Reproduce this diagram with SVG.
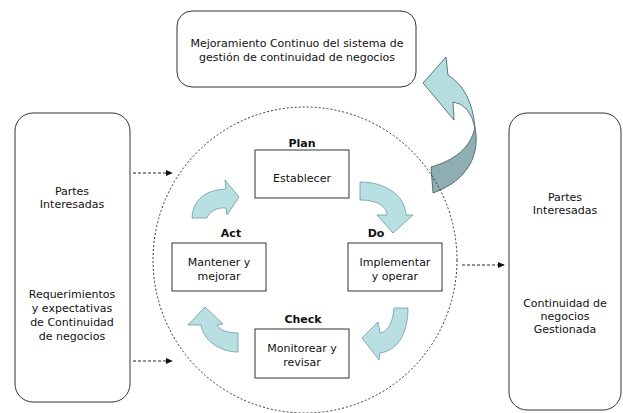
<svg xmlns="http://www.w3.org/2000/svg" width="623" height="413" viewBox="0 0 623 413">
<defs>
<style>
.box{fill:#fff;stroke:#333;stroke-width:1}
.t{font-family:"DejaVu Sans",Verdana,sans-serif;font-size:11px;fill:#111;text-anchor:middle}
.b{font-family:"DejaVu Sans",Verdana,sans-serif;font-size:11px;font-weight:bold;fill:#111;text-anchor:middle}
.sa{fill:#b8dfe2;stroke:#6c9a9e;stroke-width:0.8;stroke-linejoin:round}
.dash{fill:none;stroke:#222;stroke-width:1;stroke-dasharray:3,2}
</style>
<marker id="ah" viewBox="0 0 8 8" refX="7" refY="4" markerWidth="7" markerHeight="7" markerUnits="userSpaceOnUse" orient="auto">
<path d="M0,0.5 L8,4 L0,7.5 Z" fill="#111"/>
</marker>
</defs>
<rect width="623" height="413" fill="#fff"/>

<g id="big-arrow">
<path d="M446,57 L423,83 L454,120 L453,102 Q470,104 475,128 Q472,90 448,75 Z" fill="#b5dcdf" stroke="#3d5a5c" stroke-width="0.8" stroke-linejoin="round"/>
<path d="M475,128 C480,152 470,180 433,193 L431,167 C455,160 470,148 475,128 Z" fill="#8eaeb1" stroke="#3d5a5c" stroke-width="0.8" stroke-linejoin="round"/>
</g>

<g id="cycle-circle">
<ellipse cx="305" cy="260" rx="152" ry="153" fill="none" stroke="#333" stroke-width="1" stroke-dasharray="2,2"/>
</g>

<g id="top-box">
<rect class="box" x="177" y="11" width="239" height="76" rx="15"/>
<text class="t" x="297" y="47">Mejoramiento Continuo del sistema de</text>
<text class="t" x="297" y="61">gestión de continuidad de negocios</text>
</g>

<g id="left-box">
<rect class="box" x="15" y="113" width="115" height="289" rx="18"/>
<text class="t" x="72" y="195">Partes</text>
<text class="t" x="72" y="208">Interesadas</text>
<text class="t" x="72" y="298">Requerimientos</text>
<text class="t" x="72" y="312">y expectativas</text>
<text class="t" x="72" y="326">de Continuidad</text>
<text class="t" x="72" y="340">de negocios</text>
</g>

<g id="right-box">
<rect class="box" x="509" y="113" width="112" height="297" rx="18"/>
<text class="t" x="565" y="201">Partes</text>
<text class="t" x="565" y="214">Interesadas</text>
<text class="t" x="565" y="307">Continuidad de</text>
<text class="t" x="565" y="320">negocios</text>
<text class="t" x="565" y="333">Gestionada</text>
</g>

<g id="plan">
<text class="b" x="302" y="147">Plan</text>
<rect class="box" x="255" y="150" width="94" height="48"/>
<text class="t" x="302" y="182">Establecer</text>
</g>

<g id="do">
<text class="b" x="376" y="237">Do</text>
<rect class="box" x="348" y="243" width="94" height="48"/>
<text class="t" x="395" y="266">Implementar</text>
<text class="t" x="395" y="280">y operar</text>
</g>

<g id="check">
<text class="b" x="303" y="323">Check</text>
<rect class="box" x="255" y="329" width="94" height="49"/>
<text class="t" x="302" y="352">Monitorear y</text>
<text class="t" x="302" y="366">revisar</text>
</g>

<g id="act">
<text class="b" x="231" y="237">Act</text>
<rect class="box" x="172" y="243" width="94" height="48"/>
<text class="t" x="219" y="266">Mantener y</text>
<text class="t" x="219" y="280">mejorar</text>
</g>

<g id="cycle-arrows">
<path class="sa" d="M192,218 C193,200 205,190 226,189 L225,180 L239,197 L227,215 L226,208 C217,207 209,212 207,218 Z"/>
<path class="sa" d="M360,182 C385,182 405,195 406,215 L413,215 L393,233 L377,215 L387,215 C387,207 378,200 360,200 Z"/>
<path class="sa" d="M408,308 C408,330 400,350 380,353 L379,360 L362,338 L378,322 L380,333 C388,332 393,322 394,308 Z"/>
<path class="sa" d="M238,352 C220,352 203,340 201,325 L188,325 L205,307 L223,324 L217,325 C219,330 228,333 238,333 Z"/>
</g>

<g id="connectors">
<line class="dash" x1="133" y1="173" x2="172" y2="173" marker-end="url(#ah)"/>
<line class="dash" x1="133" y1="361" x2="172" y2="361" marker-end="url(#ah)"/>
<line class="dash" x1="462" y1="265" x2="504" y2="265" marker-end="url(#ah)"/>
</g>
</svg>
